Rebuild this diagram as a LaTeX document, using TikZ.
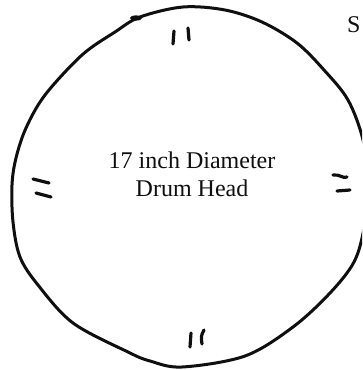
\documentclass[tikz,border=0pt]{standalone}
\usepackage{fontspec}
\setmainfont{Liberation Serif}
\usepackage{xcolor}
\definecolor{figInk}{RGB}{15,15,15}

\begin{document}
\begin{tikzpicture}[
  x=1pt,y=-1pt,
  rim/.style={draw=figInk,line width=3pt,line join=round},
  tick/.style={draw=figInk,line width=3.2pt,line cap=round},
  caption/.style={font=\fontsize{24}{28}\selectfont,text=figInk,align=center,inner sep=0pt}
]
\useasboundingbox (0,0) rectangle (362,370);
\clip (0,0) rectangle (362,370);

\draw[rim] plot[smooth cycle,tension=0.55] coordinates {
  (140,17) (183,7) (225,10) (262,22) (297,43) (324,70) (348,100)
  (363,140) (368,185) (364,228) (354,262) (330,293) (293,327)
  (245,356) (182,367) (150,361) (128,352) (73,323) (38,285)
  (20,257) (13,222) (12,185) (16,158) (26,128) (45,95) (82,55) (115,32)
};
\fill[figInk] (136,18) ellipse (6pt and 2.6pt);

\node[caption] (head) at (192,174) {17 inch Diameter\\Drum Head};
\node[caption,anchor=base west] (side) at (347,32) {S};

\draw[tick] (174,31) -- (173,44);
\draw[tick] (188,28) -- (189,40);
\draw[tick] (191,333) -- (190,347);
\draw[tick] (204,330) .. controls (201,336) .. (202,344);
\draw[tick] (33,179) -- (49,183);
\draw[tick] (36,193) -- (51,197);
\draw[tick] (333,175) .. controls (340,174) and (343,179) .. (347,177);
\draw[tick] (337,191) -- (350,190);
\end{tikzpicture}
\end{document}
